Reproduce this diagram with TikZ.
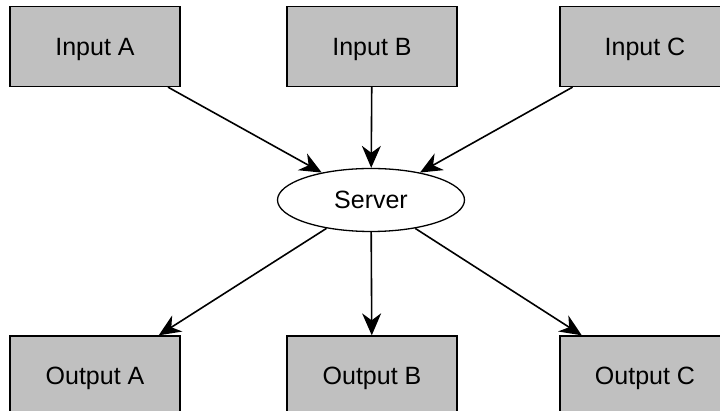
\documentclass[tikz,border=0pt]{standalone}
\usepackage{fontspec}
\setmainfont{Liberation Sans}
\usetikzlibrary{shapes.geometric,arrows.meta}
\definecolor{boxgray}{HTML}{C0C0C0}
\tikzset{
  iobox/.style={draw=black, line width=1.3pt, fill=boxgray, minimum width=170pt,
    minimum height=80pt, inner sep=0pt, text height=18pt, text depth=0pt,
    font=\fontsize{25}{29}\selectfont},
  hub/.style={ellipse, draw=black, line width=1.3pt, fill=white, minimum width=187pt,
    minimum height=63pt, inner sep=0pt, text height=18pt, text depth=0pt,
    font=\fontsize{25}{29}\selectfont},
  flow/.style={line width=1.6pt, -{Stealth[length=22pt, width=19pt, inset=7pt]}}
}
\begin{document}
\begin{tikzpicture}[x=1pt, y=1pt]
  \path[use as bounding box, clip] (0,0) rectangle (720,411);
  % inputs
  \node[iobox] (inA) at (95,364.5) {Input A};
  \node[iobox] (inB) at (372,364.5) {Input B};
  \node[iobox] (inC) at (645,364.5) {Input C};
  % central server
  \node[hub] (srv) at (371,211) {Server};
  % outputs
  \node[iobox] (outA) at (95,35) {Output A};
  \node[iobox] (outB) at (372,35) {Output B};
  \node[iobox] (outC) at (645,35) {Output C};
  % connectors
  \draw[flow] (inA) -- (srv);
  \draw[flow] (inB) -- (srv);
  \draw[flow] (inC) -- (srv);
  \draw[flow] (srv) -- (outA);
  \draw[flow] (srv) -- (outB);
  \draw[flow] (srv) -- (outC);
\end{tikzpicture}
\end{document}
